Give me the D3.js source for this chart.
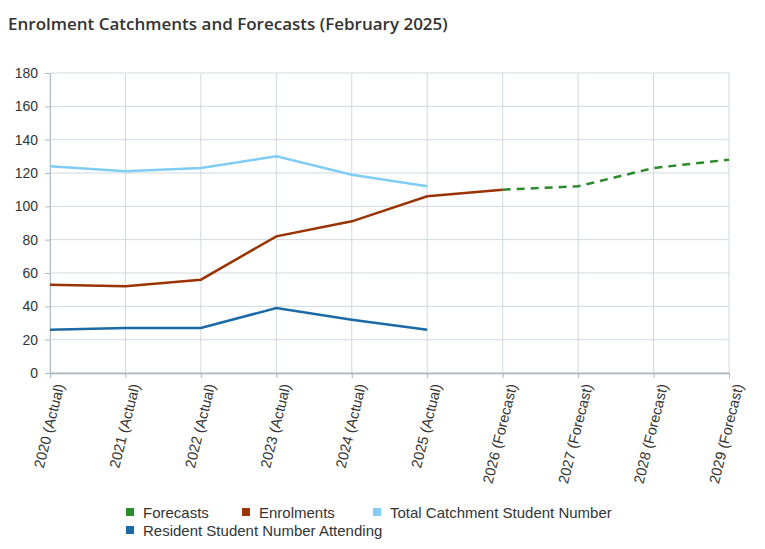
<!DOCTYPE html>
<html>
<head>
<meta charset="utf-8">
<script src="https://cdn.jsdelivr.net/npm/d3@7"></script>
<style>
  body { margin: 0; background: #fff; }
  svg { display: block; }
</style>
</head>
<body>
<svg id="chart" width="765" height="549" viewBox="0 0 765 549"></svg>
<script>
// --- Data ---
const categories = ["2020 (Actual)", "2021 (Actual)", "2022 (Actual)", "2023 (Actual)", "2024 (Actual)",
  "2025 (Actual)", "2026 (Forecast)", "2027 (Forecast)", "2028 (Forecast)", "2029 (Forecast)"];
const forecasts = [null, null, null, null, null, null, 110, 112, 123, 128];
const enrolments = [53, 52, 56, 82, 91, 106, 110, null, null, null];
const totalCatchment = [124, 121, 123, 130, 119, 112, null, null, null, null];
const residentAttending = [26, 27, 27, 39, 32, 26, null, null, null, null];
const yTicks = [0, 20, 40, 60, 80, 100, 120, 140, 160, 180];

const series = [
  { name: "Forecasts", values: forecasts, color: "#2b8a2b", dash: "8,6" },
  { name: "Enrolments", values: enrolments, color: "#993300", dash: null },
  { name: "Total Catchment Student Number", values: totalCatchment, color: "#7fcdf5", dash: null },
  { name: "Resident Student Number Attending", values: residentAttending, color: "#1b6aa5", dash: null }
];

const svg = d3.select("#chart");
const margin = { left: 50, right: 36, top: 73, bottom: 176 };
const width = 765, height = 549;

const x = d3.scalePoint().domain(categories).range([margin.left, width - margin.right]);
const y = d3.scaleLinear().domain([0, 180]).range([height - margin.bottom, margin.top]);

// Title
svg.append("text")
  .attr("x", 8).attr("y", 30)
  .style("font-family", "'Open Sans', sans-serif")
  .style("font-size", "17px")
  .style("font-weight", 600)
  .style("fill", "#333")
  .text("Enrolment Catchments and Forecasts (February 2025)");

// Grid
const grid = svg.append("g");
grid.selectAll(".hgrid").data(yTicks).join("line")
  .attr("x1", margin.left).attr("x2", width - margin.right)
  .attr("y1", d => y(d)).attr("y2", d => y(d))
  .style("stroke", "#cfd8de").style("stroke-width", 1);
grid.selectAll(".vgrid").data(categories).join("line")
  .attr("x1", d => x(d)).attr("x2", d => x(d))
  .attr("y1", y(180)).attr("y2", y(0))
  .style("stroke", "#cfd8de").style("stroke-width", 1);

// Y axis
const yAxis = svg.append("g")
  .attr("transform", `translate(${margin.left},0)`)
  .call(d3.axisLeft(y).tickValues(yTicks).tickSize(5).tickPadding(7));
yAxis.select(".domain").style("stroke", "#b0bcc4");
yAxis.selectAll(".tick line").style("stroke", "#b0bcc4");
yAxis.selectAll("text")
  .style("font-family", "'Liberation Sans', Arial, sans-serif")
  .style("font-size", "14px").style("fill", "#333");

// X axis
const xAxis = svg.append("g")
  .attr("transform", `translate(0,${y(0)})`)
  .call(d3.axisBottom(x).tickSize(5).tickSizeOuter(0));
xAxis.select(".domain").style("stroke", "#a8b4bc").style("stroke-width", 1.5);
xAxis.selectAll(".tick line").style("stroke", "#a8b4bc");
xAxis.selectAll("text")
  .style("font-family", "'Liberation Sans', Arial, sans-serif")
  .style("font-size", "14.5px").style("fill", "#333")
  .attr("text-anchor", "end")
  .attr("dy", "0.35em")
  .attr("transform", "translate(9,11) rotate(-76)")
  .attr("x", 0).attr("y", 0);

// Lines
const line = d3.line()
  .defined(d => d != null)
  .x((d, i) => x(categories[i]))
  .y(d => y(d));

svg.append("g").selectAll("path").data(series).join("path")
  .attr("d", s => line(s.values))
  .style("fill", "none")
  .style("stroke", s => s.color)
  .style("stroke-width", 2.5)
  .style("stroke-dasharray", s => s.dash);

// Legend
const legendPos = [
  { x: 126, y: 513 }, { x: 242, y: 513 }, { x: 373, y: 513 }, { x: 126, y: 531 }
];
const legend = svg.append("g").selectAll("g").data(series).join("g")
  .attr("transform", (d, i) => `translate(${legendPos[i].x},${legendPos[i].y})`);
legend.append("rect")
  .attr("x", 0).attr("y", -5).attr("width", 8).attr("height", 8)
  .style("fill", d => d.color);
legend.append("text")
  .attr("x", 17).attr("y", 0).attr("dy", "0.35em")
  .style("font-family", "'Liberation Sans', Arial, sans-serif")
  .style("font-size", "15px").style("fill", "#333")
  .text(d => d.name);
</script>
</body>
</html>
